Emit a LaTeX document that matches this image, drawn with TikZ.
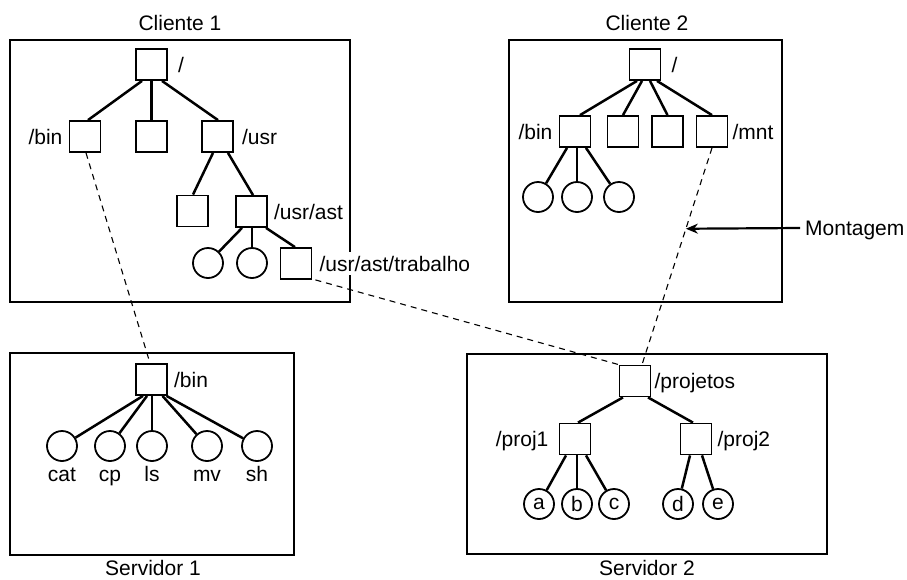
\documentclass[tikz,border=0pt]{standalone}
\usepackage{fontspec}
\setmainfont{Liberation Sans}
\usetikzlibrary{arrows.meta,calc,positioning}
\begin{document}
\begin{tikzpicture}[x=1pt,y=-1pt,
  every node/.style={font=\fontsize{21}{25}\selectfont},
  sq/.style={draw,line width=1.8pt,minimum size=31pt,inner sep=0pt},
  circ/.style={draw,circle,line width=1.8pt,minimum size=30pt,inner sep=0pt},
  lbl/.style={inner sep=0pt,text height=15pt,text depth=0pt},
  frame/.style={draw,line width=2pt,inner sep=0pt},
  edge/.style={line width=2.5pt},
  mount/.style={line width=1.1pt,dash pattern=on 6pt off 5pt},
  arr/.style={line width=2.2pt,-{Stealth[length=12pt,width=10pt]}}]
\useasboundingbox (0,0) rectangle (907,579);

% frames
\node[frame,minimum width=340pt,minimum height=262pt] (f1) at (180,171) {};
\node[frame,minimum width=273pt,minimum height=262pt] (f2) at (645.5,171) {};
\node[frame,minimum width=284pt,minimum height=202pt] (f3) at (152,454) {};
\node[frame,minimum width=360pt,minimum height=200pt] (f4) at (647,454) {};
\node[lbl] (t1) at (180,23) {Cliente 1};
\node[lbl] (t2) at (647,23) {Cliente 2};
\node[lbl] (t3) at (153,568) {Servidor 1};
\node[lbl] (t4) at (647,567.5) {Servidor 2};

% Cliente 1
\node[sq] (r1) at (151.5,64.5) {};
\node[sq] (b1) at (85,136.5) {};
\node[sq] (m1) at (151.5,136.5) {};
\node[sq] (u1) at (217.5,136.5) {};
\node[sq] (ua) at (192.5,211) {};
\node[sq] (ast) at (251.5,211.5) {};
\node[circ] (ca) at (208,263) {};
\node[circ] (cb) at (252,263) {};
\node[sq] (tr) at (296,263.5) {};
\node[lbl,right=10pt of r1] (r1l) {/};
\node[lbl,left=6pt of b1] (b1l) {/bin};
\node[lbl,right=8pt of u1] (u1l) {/usr};
\node[lbl,right=6pt of ast] (astl) {/usr/ast};
\node[lbl,right=7pt of tr,fill=white,inner ysep=4pt] (trl) {/usr/ast/trabalho};
\draw[edge] ([xshift=-9.5pt]r1.south) -- ([xshift=3pt]b1.north);
\draw[edge] (r1.south) -- (m1.north);
\draw[edge] ([xshift=10.5pt]r1.south) -- ([xshift=0.5pt]u1.north);
\draw[edge] ([xshift=-4.5pt]u1.south) -- ([xshift=0.5pt]ua.north);
\draw[edge] ([xshift=10.5pt]u1.south) -- ([xshift=1.5pt]ast.north);
\draw[edge] ([xshift=-9.5pt]ast.south) -- (ca);
\draw[edge] ([xshift=0.5pt]ast.south) -- (cb);
\draw[edge] ([xshift=14.5pt]ast.south) -- ([xshift=-1pt]tr.north);

% Cliente 2
\node[sq] (r2) at (645,64.5) {};
\node[sq] (b2) at (575,131.5) {};
\node[sq] (s2a) at (623,131.5) {};
\node[sq] (s2b) at (667.5,131.5) {};
\node[sq] (mnt) at (712,131.5) {};
\node[circ] (c2a) at (538,197) {};
\node[circ] (c2b) at (577,197) {};
\node[circ] (c2c) at (619,197) {};
\node[lbl,right=10pt of r2] (r2l) {/};
\node[lbl,left=6pt of b2] (b2l) {/bin};
\node[lbl,right=4pt of mnt] (mntl) {/mnt};
\draw[edge] ([xshift=-8pt]r2.south) -- ([xshift=5pt]b2.north);
\draw[edge] ([xshift=-3pt]r2.south) -- (s2a.north);
\draw[edge] ([xshift=5pt]r2.south) -- (s2b.north);
\draw[edge] ([xshift=12pt]r2.south) -- (mnt.north);
\draw[edge] ([xshift=-8pt]b2.south) -- (c2a);
\draw[edge] ([xshift=2pt]b2.south) -- (c2b);
\draw[edge] ([xshift=11pt]b2.south) -- (c2c);

% Servidor 1
\node[sq] (sb) at (151.5,379.5) {};
\node[lbl,right=6pt of sb] (sbl) {/bin};
\foreach \n/\x in {cat/62,cp/110,ls/152,mv/207,sh/257}{
  \node[circ] (\n) at (\x,446) {};
  \node[lbl] (\n l) at (\x,474) {\n};
}
\draw[edge] ([xshift=-8.5pt]sb.south) -- (cat);
\draw[edge] ([xshift=-4.5pt]sb.south) -- (cp);
\draw[edge] ([xshift=0.5pt]sb.south) -- (ls);
\draw[edge] ([xshift=11pt]sb.south) -- (mv);
\draw[edge] ([xshift=15pt]sb.south) -- (sh);

% Servidor 2
\node[sq] (proj) at (635,381) {};
\node[sq] (p1) at (575,439) {};
\node[sq] (p2) at (696,439) {};
\node[lbl,right=3pt of proj] (projl) {/projetos};
\node[lbl,left=10pt of p1] (p1l) {/proj1};
\node[lbl,right=5pt of p2] (p2l) {/proj2};
\foreach \n/\x in {a/539,b/577,c/614,d/678,e/718}{
  \node[circ] (\n) at (\x,504) {\n};
}
\draw[edge] ([xshift=-12pt]proj.south) -- ([xshift=3pt]p1.north);
\draw[edge] ([xshift=13pt]proj.south) -- ([xshift=-3pt]p2.north);
\draw[edge] ([xshift=-9pt]p1.south) -- (a);
\draw[edge] ([xshift=2pt]p1.south) -- (b);
\draw[edge] ([xshift=11pt]p1.south) -- (c);
\draw[edge] ([xshift=-6pt]p2.south) -- (d);
\draw[edge] ([xshift=6pt]p2.south) -- (e);

% mounts
\draw[mount] ([xshift=1pt]b1.south) -- ([xshift=-1.5pt]sb.north);
\draw[mount] ([xshift=3pt]tr.south east) -- (proj.north west);
\draw[mount] (mnt.south) -- ([xshift=7pt]proj.north);
\coordinate (mp) at ($(mnt.south)!0.373!([xshift=7pt]proj.north)$);
\node[lbl,anchor=west] (mont) at (805,228) {Montagem};
\draw[arr] ([xshift=-5pt]mont.west) -- (mp);
\end{tikzpicture}
\end{document}
